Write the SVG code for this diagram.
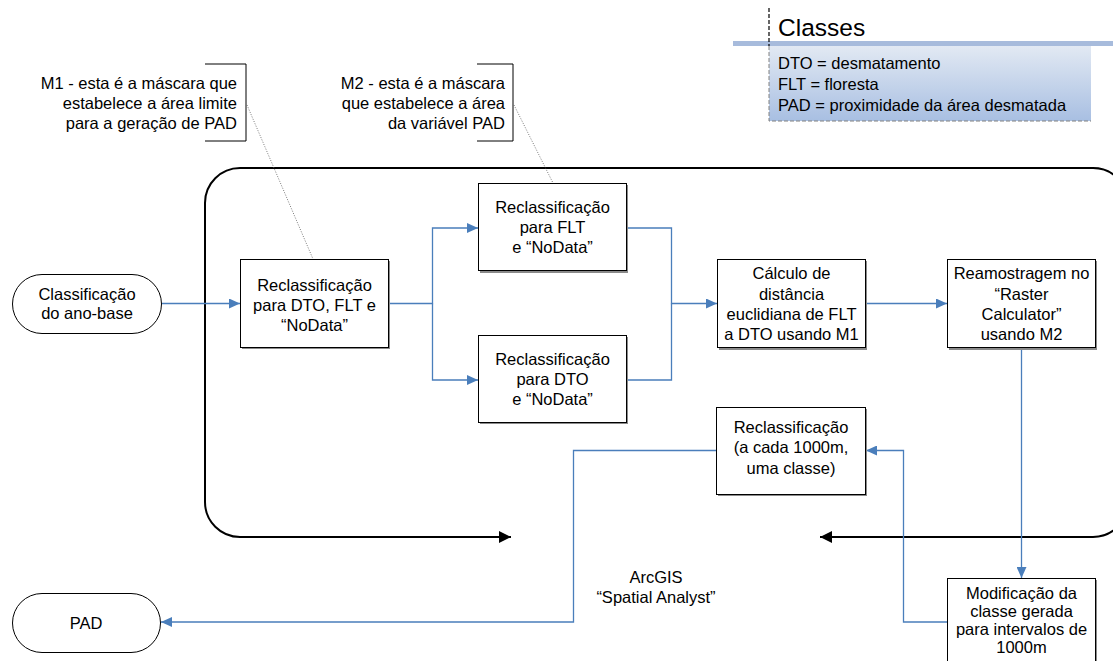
<svg xmlns="http://www.w3.org/2000/svg" width="1113" height="661" viewBox="0 0 1113 661">
<defs>
<style>
text{font-family:"Liberation Sans",Arial,sans-serif;font-size:16.5px;fill:#000}
.c{text-anchor:middle}
.r{text-anchor:end}
.box{fill:#fff;stroke:#000;stroke-width:1}
.sh{fill:#8a8a8a}
.term{fill:#fff;stroke:#000;stroke-width:1}
.conn{fill:none;stroke:#4a7ebb;stroke-width:1.3}
.loop{fill:none;stroke:#000;stroke-width:2}
.dot{fill:none;stroke:#555;stroke-width:0.8;stroke-dasharray:1 1.5}
.br{fill:none;stroke:#000;stroke-width:1}
</style>
<marker id="ab" markerUnits="userSpaceOnUse" markerWidth="12" markerHeight="10" refX="11" refY="5" orient="auto">
<path d="M0,0 L11,5 L0,10 Z" fill="#4a7ebb"/>
</marker>
<marker id="ak" markerUnits="userSpaceOnUse" markerWidth="13" markerHeight="12" refX="12" refY="6" orient="auto-start-reverse">
<path d="M0,0 L12,6 L0,12 Z" fill="#000"/>
</marker>
<linearGradient id="lg" x1="0" y1="0" x2="0" y2="1">
<stop offset="0" stop-color="#e2e9f3"/>
<stop offset="1" stop-color="#a8bfe2"/>
</linearGradient>
</defs>

<g id="legend">
<rect x="733" y="41" width="380" height="5" fill="#a7bbdc"/>
<rect x="769" y="46" width="322" height="75" fill="url(#lg)"/>
<path d="M769,46 V121 H1091" fill="none" stroke="#808080" stroke-width="1" stroke-dasharray="4 2"/>
<path d="M769,8 V46" fill="none" stroke="#000" stroke-width="1.2" stroke-dasharray="4 2"/>
<text x="778" y="36" style="font-size:24.5px">Classes</text>
<text x="778" y="69">DTO = desmatamento</text>
<text x="778" y="90">FLT = floresta</text>
<text x="778" y="111">PAD = proximidade da área desmatada</text>
</g>

<g id="loop">
<path class="loop" d="M511,537 H240 A35,35 0 0 1 205,502 V203 A35,35 0 0 1 240,168 H1093 A35,35 0 0 1 1128,203" marker-start="url(#ak)"/>
<path class="loop" d="M820,537 H1093 A35,35 0 0 0 1128,502" marker-start="url(#ak)"/>
</g>

<g id="annotations">
<path class="br" d="M205,64 H246 V141 H205"/>
<path class="dot" d="M247,105 L313,259"/>
<text class="r" x="237" y="89">M1 - esta é a máscara que</text>
<text class="r" x="237" y="109">estabelece a área limite</text>
<text class="r" x="237" y="129">para a geração de PAD</text>
<path class="br" d="M477,64 H513 V141 H477"/>
<path class="dot" d="M514,105 L553,183"/>
<text class="r" x="505" y="89">M2 - esta é a máscara</text>
<text class="r" x="505" y="109">que estabelece a área</text>
<text class="r" x="505" y="129">da variável PAD</text>
</g>

<g id="connectors">
<path class="conn" d="M162,303.5 H240" marker-end="url(#ab)"/>
<path class="conn" d="M388,303.5 H432.5 V228 H478" marker-end="url(#ab)"/>
<path class="conn" d="M432.5,303.5 V380 H478" marker-end="url(#ab)"/>
<path class="conn" d="M627,228 H671.5 V303.5 H717" marker-end="url(#ab)"/>
<path class="conn" d="M627,380 H671.5 V303.5"/>
<path class="conn" d="M866,303.5 H947" marker-end="url(#ab)"/>
<path class="conn" d="M1021.5,348 V578" marker-end="url(#ab)"/>
<path class="conn" d="M947,622 H903.5 V450.5 H866" marker-end="url(#ab)"/>
<path class="conn" d="M717,450.5 H573.5 V622 H161" marker-end="url(#ab)"/>
</g>

<g id="n-classificacao">
<rect class="term" x="12.5" y="274.5" width="149" height="59" rx="29.5" ry="29.5"/>
<text class="c" x="87" y="300">Classificação</text>
<text class="c" x="87" y="319">do ano-base</text>
</g>

<g id="n-reclass1">
<rect class="sh" x="242" y="261" width="148" height="88"/>
<rect class="box" x="240.5" y="259.5" width="148" height="88"/>
<text class="c" x="314.5" y="291">Reclassificação</text>
<text class="c" x="314.5" y="311">para DTO, FLT e</text>
<text class="c" x="314.5" y="331">“NoData”</text>
</g>

<g id="n-reclass-flt">
<rect class="sh" x="480" y="185" width="148" height="88"/>
<rect class="box" x="478.5" y="183.5" width="148" height="87"/>
<text class="c" x="552.5" y="213">Reclassificação</text>
<text class="c" x="552.5" y="233">para FLT</text>
<text class="c" x="552.5" y="253">e “NoData”</text>
</g>

<g id="n-reclass-dto">
<rect class="sh" x="480" y="337" width="148" height="87"/>
<rect class="box" x="478.5" y="335.5" width="148" height="87"/>
<text class="c" x="552.5" y="365">Reclassificação</text>
<text class="c" x="552.5" y="385">para DTO</text>
<text class="c" x="552.5" y="405">e “NoData”</text>
</g>

<g id="n-calculo">
<rect class="sh" x="719" y="261" width="148" height="89"/>
<rect class="box" x="717.5" y="259.5" width="148" height="88"/>
<text class="c" x="791.5" y="279">Cálculo de</text>
<text class="c" x="791.5" y="299.5">distância</text>
<text class="c" x="791.5" y="320">euclidiana de FLT</text>
<text class="c" x="791.5" y="340">a DTO usando M1</text>
</g>

<g id="n-reamostragem">
<rect class="sh" x="949" y="261" width="148" height="89"/>
<rect class="box" x="947.5" y="259.5" width="148" height="88"/>
<text class="c" x="1021.5" y="279">Reamostragem no</text>
<text class="c" x="1021.5" y="299.5">“Raster</text>
<text class="c" x="1021.5" y="320">Calculator”</text>
<text class="c" x="1021.5" y="340">usando M2</text>
</g>

<g id="n-reclass-1000">
<rect class="sh" x="718" y="409" width="149" height="87"/>
<rect class="box" x="716.5" y="407.5" width="149" height="87"/>
<text class="c" x="791" y="433">Reclassificação</text>
<text class="c" x="791" y="453">(a cada 1000m,</text>
<text class="c" x="791" y="474">uma classe)</text>
</g>

<g id="n-modificacao">
<rect class="sh" x="949" y="580" width="148" height="90"/>
<rect class="box" x="947.5" y="578.5" width="148" height="90"/>
<text class="c" x="1021.5" y="599">Modificação da</text>
<text class="c" x="1021.5" y="617">classe gerada</text>
<text class="c" x="1021.5" y="635">para intervalos de</text>
<text class="c" x="1021.5" y="653">1000m</text>
</g>

<g id="n-pad">
<rect class="term" x="12.5" y="593.5" width="148" height="59" rx="29.5" ry="29.5"/>
<text class="c" x="86" y="629">PAD</text>
</g>

<g id="label-arcgis">
<text class="c" x="656" y="583">ArcGIS</text>
<text class="c" x="656" y="603">“Spatial Analyst”</text>
</g>
</svg>
